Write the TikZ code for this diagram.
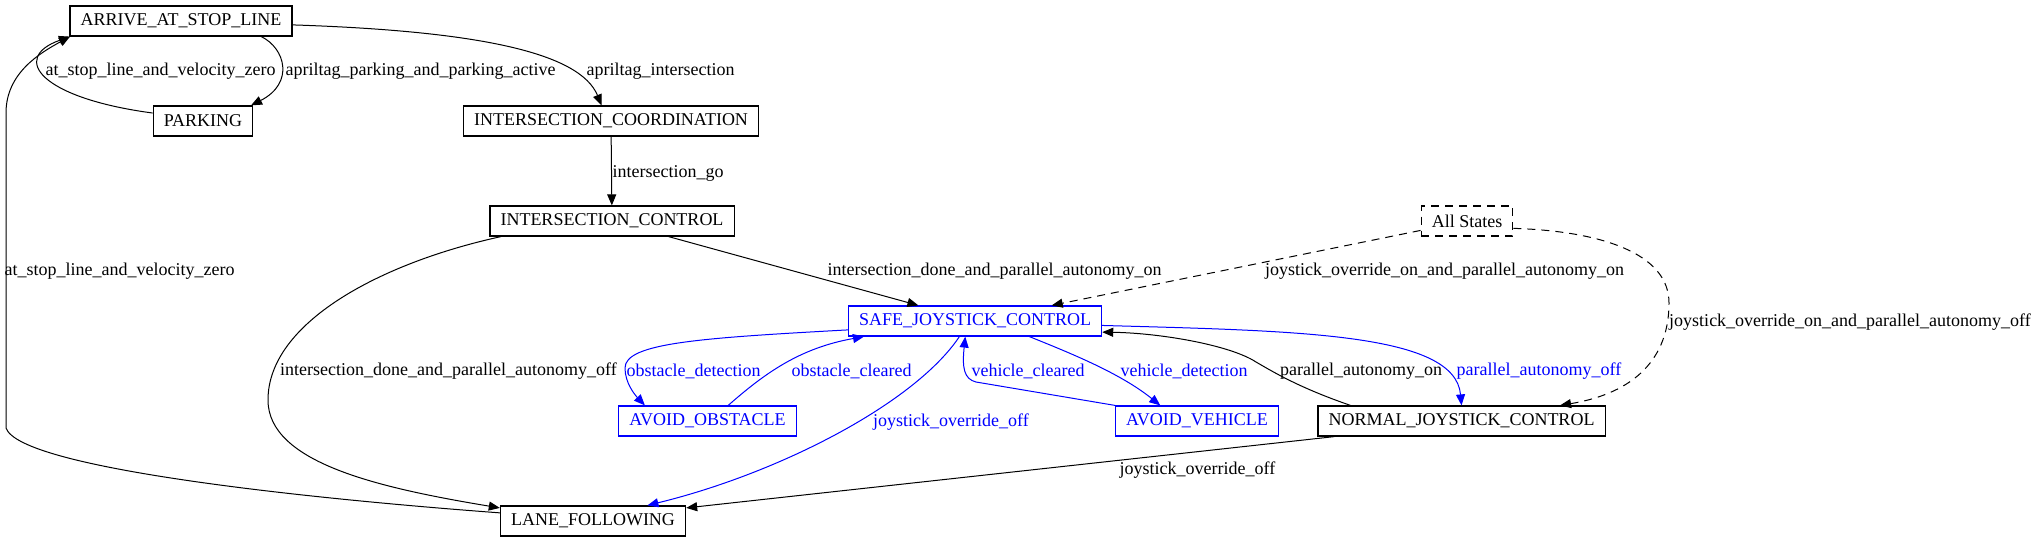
\documentclass[tikz,border=0pt]{standalone}
\usepackage{fontspec}
\setmainfont{Liberation Serif}
\usetikzlibrary{arrows.meta}
\definecolor{sblue}{RGB}{0,0,255}

\begin{document}
\begin{tikzpicture}[x=0.5pt, y=0.5pt, >={Triangle[length=5.5pt,width=4.5pt]},
  font=\fontsize{9}{11}\selectfont,
  state/.style={draw, line width=0.6pt, minimum height=15pt,
    inner xsep=5.3pt, inner ysep=0pt},
  safestate/.style={state, draw=sblue, text=sblue},
  link/.style={->, line width=0.5pt},
  slink/.style={link, draw=sblue},
  dlink/.style={link, dash pattern=on 4pt off 3pt},
  lbl/.style={inner sep=0pt},
  slbl/.style={lbl, text=sblue}]
\useasboundingbox (0,0) rectangle (2039,543);
\node[state] (arrive) at (181,522) {ARRIVE\_AT\_STOP\_LINE};
\node[state] (parking) at (203,422) {PARKING};
\node[state] (coord) at (611,422) {INTERSECTION\_COORDINATION};
\node[state] (ictrl) at (612,322) {INTERSECTION\_CONTROL};
\node[state, dash pattern=on 4pt off 3pt] (all) at (1467,322) {All States};
\node[safestate] (safe) at (975,222) {SAFE\_JOYSTICK\_CONTROL};
\node[safestate] (aobs) at (707.5,122) {AVOID\_OBSTACLE};
\node[safestate] (aveh) at (1197,122) {AVOID\_VEHICLE};
\node[state] (normal) at (1461.5,122) {NORMAL\_JOYSTICK\_CONTROL};
\node[state] (lane) at (593,22) {LANE\_FOLLOWING};

\draw[link] (arrive.-11) .. controls (285,495) and (295,460) .. (parking.18);
\draw[link] (parking.171) .. controls (40,445) and (10,485) .. (arrive.188);
\draw[link] (arrive.-2) .. controls (480,512) and (580,490) .. (coord.121);
\draw[link] (coord) -- (ictrl);
\draw[link] (ictrl) -- (safe);
\draw[link] (ictrl.188) .. controls (380,280) and (268,220) .. (268,143)
  .. controls (268,80) and (380,55) .. (lane.172);
\draw[link] (lane.175) .. controls (300,45) and (20,75) .. (6,115) -- (6,430)
  .. controls (6,470) and (40,490) .. (arrive.188);
\draw[dlink] (all) -- (safe);
\draw[dlink] (all.-9) .. controls (1600,312) and (1669,290) .. (1669,240)
  .. controls (1669,185) and (1635,150) .. (normal.9);
\draw[slink] (safe.-2) .. controls (1300,212) and (1455,210) .. (normal.north);
\draw[link] (normal.172) .. controls (1300,155) and (1275,170) .. (1256,181)
  .. controls (1230,198) and (1160,210) .. (safe.-5);
\draw[slink] (safe.184) .. controls (700,205) and (625,200) .. (625,175)
  .. controls (625,160) and (635,148) .. (aobs.166);
\draw[slink] (aobs.37) .. controls (765,170) and (800,195) .. (safe.188);
\draw[slink] (safe.225) .. controls (915,140) and (780,70) .. (lane.16);
\draw[slink] (aveh.north west) -- (976,161) .. controls (964,164) and (962,175) .. (safe.238);
\draw[slink] (safe.-16) .. controls (1070,190) and (1120,170) .. (aveh.157);
\draw[link] (normal.187) -- (lane.8);

\node[lbl] at (160.5,472) {at\_stop\_line\_and\_velocity\_zero};
\node[lbl] at (420.5,472) {apriltag\_parking\_and\_parking\_active};
\node[lbl] at (660.5,472) {apriltag\_intersection};
\node[lbl] at (668,370) {intersection\_go};
\node[lbl] at (119.5,272) {at\_stop\_line\_and\_velocity\_zero};
\node[lbl] at (994.5,272) {intersection\_done\_and\_parallel\_autonomy\_on};
\node[lbl] at (1444.5,272) {joystick\_override\_on\_and\_parallel\_autonomy\_on};
\node[lbl] at (1850,221) {joystick\_override\_on\_and\_parallel\_autonomy\_off};
\node[lbl] at (448.5,172) {intersection\_done\_and\_parallel\_autonomy\_off};
\node[slbl] at (693.5,172) {obstacle\_detection};
\node[slbl] at (851.5,172) {obstacle\_cleared};
\node[slbl] at (1028,172) {vehicle\_cleared};
\node[slbl] at (1184,172) {vehicle\_detection};
\node[lbl] at (1361,172) {parallel\_autonomy\_on};
\node[slbl] at (1539,172) {parallel\_autonomy\_off};
\node[slbl] at (951,121) {joystick\_override\_off};
\node[lbl] at (1197.5,73) {joystick\_override\_off};
\end{tikzpicture}
\end{document}
